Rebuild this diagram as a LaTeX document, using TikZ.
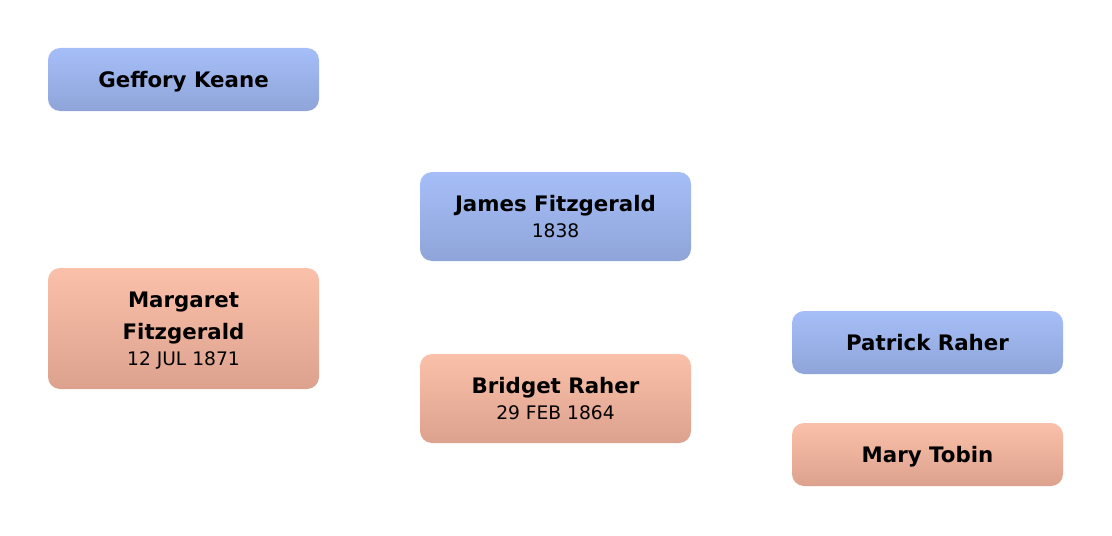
\documentclass[tikz,border=0pt]{standalone}
\usepackage{fontspec}
\setmainfont{DejaVu Sans}
\usetikzlibrary{positioning}

\definecolor{maletop}{HTML}{A6BEF8}
\definecolor{malebot}{HTML}{8FA5D9}
\definecolor{femtop}{HTML}{FBC0A9}
\definecolor{fembot}{HTML}{DCA28E}

\newcommand{\pdate}{\fontsize{14}{20}\selectfont\mdseries}

\begin{document}
\begin{tikzpicture}[
		x=0.75pt, y=-0.75pt,
		person/.style={rounded corners=9pt, minimum width=203.25pt, align=center, inner sep=0pt,
			text depth=0pt, font=\fontsize{16}{24}\selectfont\bfseries},
		male/.style={person, top color=maletop, bottom color=malebot},
		female/.style={person, top color=femtop, bottom color=fembot},
	]
		\useasboundingbox (0,0) rectangle (1112,535);
	
		\node[male, minimum height=47.25pt] (geffory) at (183.5,79.5) {Geffory Keane};
		\node[female, minimum height=90.75pt] (margaret) at (183.5,328.5) {Margaret\\Fitzgerald\\[-4.5pt]\pdate 12 JUL 1871};
		
		\node[male, minimum height=66.75pt] (james) at (555.5,216.5) {James Fitzgerald\\[-4.5pt]\pdate 1838};
		\node[female, minimum height=66.75pt] (bridget) at (555.5,398.5) {Bridget Raher\\[-4.5pt]\pdate 29 FEB 1864};
		
		\node[male, minimum height=47.25pt] (patrick) at (927.5,342.5) {Patrick Raher};
		\node[female, minimum height=47.25pt] (mary) at (927.5,454.5) {Mary Tobin};
	\end{tikzpicture}
\end{document}
